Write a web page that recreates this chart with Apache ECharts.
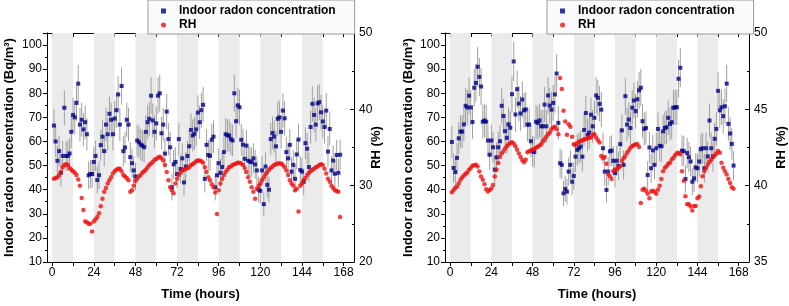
<!DOCTYPE html>
<html>
<head>
<meta charset="utf-8">
<script src="https://cdn.jsdelivr.net/npm/echarts@6/dist/echarts.min.js"></script>
<style>
  html, body { margin: 0; padding: 0; background: #fff; }
  #chart { width: 789px; height: 306px; }
</style>
</head>
<body>
<div id="chart"></div>
<script>
// hourly readings, hour 1 .. n
var radonA = [66.6, 60, 52, 56, 47, 54, 74, 54, 54, 55, 64, 71, 70, 76, 84, 67, 69, 65, 68, 63,
  46, 46.5, 46.5, 51.5, 54, 44, 46, 58.5, 62, 56, 67, 63, 71.5, 69, 63, 69.5, 73, 79.5, 67, 83,
  56, 57.5, 69, 67, 53.5, 51, 48, 45.5, 60.4, 59.7, 58.7, 58.3, 57.6, 64, 68, 69.4, 79, 68.7, 64, 67.5,
  79, 80, 63.4, 67, 55, 72.4, 61, 57.6, 41, 50.5, 51.5, 46.5, 61, 48.6, 53, 43, 49.6, 54, 58, 64.8,
  62.5, 63.2, 65, 72, 68, 73, 75.2, 44.5, 58.6, 54.4, 54, 60.7, 62, 41, 46, 51, 47, 49.4, 55.6, 63,
  62.5, 62.5, 61, 60.4, 80, 68.4, 75, 74.2, 60.7, 58.7, 52.8, 58.3, 52, 51.7, 51.4, 53, 50.5, 48, 40, 39.5,
  48, 34, 49.6, 42, 40, 61, 63.5, 62, 58, 69.4, 70, 64, 72.8, 69.6, 55.6, 53, 58.6, 47.5, 50.3, 44.5,
  54.6, 60.8, 48.2, 47.5, 43.3, 59.3, 57, 49.4, 66, 75.6, 71, 67, 75.8, 76.3, 72.1, 68.3, 66, 72.8, 55.8, 65.2,
  48, 52.1, 46.6, 54.4, 47, 54.5];
var rhA = [30.9, 31.0, 31.1, 31.4, 31.8, 32.4, 32.7, 32.8, 32.7, 32.3, 32.1, 31.9, 31.7, 31.4, 30.8, 30.0, 28.4, 26.8, 25.3, 25.2,
  25.0, 25.0, 24.0, 25.3, 25.6, 25.9, 26.4, 27.3, 28.3, 29.2, 29.7, 30.3, 30.7, 31.1, 31.6, 31.9, 32.1, 32.2, 32.2, 31.9,
  31.4, 31.2, 31.0, 30.7, 29.2, 29.4, 30.0, 30.6, 30.9, 31.2, 31.4, 31.7, 31.9, 32.1, 32.4, 32.7, 32.9, 33.1, 33.4, 33.5,
  33.7, 33.8, 33.6, 33.3, 32.7, 31.8, 30.7, 29.8, 29.4, 29.0, 30.3, 30.9, 31.4, 31.7, 32.0, 32.1, 32.2, 32.3, 32.4, 32.7,
  32.8, 33.0, 33.2, 33.3, 33.3, 33.2, 33.0, 32.4, 31.8, 31.1, 30.7, 30.2, 29.8, 29.1, 26.3, 29.4, 30.3, 30.9, 31.4, 31.8,
  32.1, 32.4, 32.5, 32.7, 32.8, 32.9, 33.0, 33.0, 32.9, 32.7, 32.3, 31.8, 31.1, 30.5, 29.8, 29.2, 28.3, 29.6, 30.0, 30.3,
  30.7, 31.1, 31.5, 31.8, 32.1, 32.3, 32.5, 32.7, 32.8, 32.9, 32.9, 32.9, 32.7, 32.4, 32.0, 31.4, 30.7, 30.3, 30.0, 29.4,
  29.6, 26.6, 30.0, 30.3, 30.7, 31.0, 31.4, 31.7, 31.9, 32.1, 32.2, 32.4, 32.5, 32.7, 32.8, 32.7, 32.2, 31.6, 30.9, 30.5,
  30.0, 29.7, 29.4, 29.3, 29.2, 25.9];

var radonB = [59.8, 49, 47.3, 53.2, 61.3, 64.1, 64.1, 67.1, 74.8, 74.1, 79, 74.1, 68.1, 82.3, 84.3, 91, 86.8, 82.8, 68.2, 68.7,
  68.2, 60.4, 54.5, 60.4, 57.6, 48.3, 53.4, 57.6, 60.1, 74.8, 70.6, 64.3, 61.5, 67.1, 65.7, 79.6, 93.2, 71.2, 81.7, 75.7,
  71.6, 77.4, 72.9, 73.3, 67, 67, 60.1, 55.9, 55.6, 68.2, 67.7, 68.7, 66.3, 66.3, 75.3, 66.3, 79.1, 74.9, 73.2, 76,
  79.5, 88.2, 67.7, 51, 50.3, 38.5, 40.3, 39.2, 47.5, 50.3, 43.3, 45.7, 53.7, 56.5, 57.2, 57.9, 53.7, 64.8, 71.8, 62.8,
  63.7, 71.1, 66.3, 69.8, 79.1, 78.1, 75.6, 73.2, 57.2, 47.5, 39.9, 47.5, 55.9, 56.2, 52, 46.9, 52, 49.9, 58.9, 64.6,
  50.3, 78.8, 67, 69.1, 65.6, 74, 77, 72.6, 77.5, 81.2, 82.3, 68.4, 65.2, 65.6, 46.1, 57.5, 48.9, 56.3, 50.3, 57.2,
  65.2, 58.2, 58, 64.2, 65.6, 65.9, 69.8, 67.3, 68, 74, 74.2, 74.2, 86, 90.6, 56.2, 56, 44.4, 55.2, 53.5, 51.7,
  43.3, 44.7, 49.2, 48.9, 51.7, 56.8, 57.2, 48.9, 57.2, 53.8, 68.7, 57.2, 53.8, 61.1, 65.2, 81, 72.9, 74.2, 70.5, 74.6,
  84, 67.3, 63.3, 59, 50];
var rhB = [39.57, 39.72, 39.84, 39.95, 40.16, 40.38, 40.54, 40.67, 40.78, 40.87, 41.04, 41.15, 41.31, 41.33, 41.37, 41.26, 40.93, 40.6, 40.38, 40.1,
  39.77, 39.62, 39.72, 39.81, 40.05, 40.6, 41.04, 41.48, 41.88, 42.1, 42.25, 42.43, 42.58, 42.69, 42.8, 42.85, 42.76, 42.58, 42.36, 42.1,
  41.88, 41.66, 41.53, 41.7, 42.19, 42.25, 42.3, 42.35, 42.4, 42.48, 42.55, 42.63, 42.71, 42.89, 43.04, 43.2, 43.37, 43.48, 43.7, 43.81,
  43.86, 43.7, 43.37, 47.05, 46.34, 44.91, 44.21, 43.33, 44.03, 43.86, 43.2, 42.71, 42.65, 42.78, 42.87, 42.93, 42.98, 43.04, 43.04, 43.11,
  43.15, 43.15, 43.33, 43.37, 43.15, 42.98, 42.82, 41.94, 41.79, 41.87, 41.43, 40.73, 40.62, 40.44, 40.95, 41.06, 41.06, 41.17, 41.28, 41.61,
  41.79, 41.94, 42.16, 42.31, 42.49, 42.6, 42.65, 42.71, 42.71, 42.54, 38.86, 39.74, 39.8, 39.67, 39.47, 39.18, 39.62, 39.67, 39.6, 39.47,
  39.74, 40.0, 40.44, 40.95, 41.17, 41.28, 41.43, 41.5, 41.72, 41.83, 42.0, 42.12, 42.16, 42.05, 40.95, 40.33, 39.3, 38.78, 38.78, 38.63,
  38.37, 38.67, 38.67, 39.18, 39.29, 39.96, 40.62, 40.95, 41.17, 41.39, 41.56, 41.72, 41.87, 41.98, 42.11, 42.27, 42.16, 41.5, 41.17, 40.95,
  40.73, 40.44, 40.18, 39.9, 39.8];

var nightBands = [[0, 12], [24, 36], [48, 60], [72, 84], [96, 108], [120, 132], [144, 156]];
var timeLabels = [0, 24, 48, 72, 96, 120, 144, 168];
var timeTicks = [0, 12, 24, 36, 48, 60, 72, 84, 96, 108, 120, 132, 144, 156, 168];
var radonLabels = [10, 20, 30, 40, 50, 60, 70, 80, 90, 100];

var font = 'Liberation Sans, Arial, sans-serif';
var radonName = 'Indoor radon concentration';

// counting uncertainty for the grey error bars
function errOf(v) { return 0.85 * Math.sqrt(v); }

function pts(arr) {
  return arr.map(function (v, i) { return [i + 1, v]; });
}
function errPts(arr) {
  return arr.map(function (v, i) { return [i + 1, v, errOf(v)]; });
}

function errorBar(params, api) {
  var x = api.value(0), y = api.value(1), e = api.value(2);
  var a = api.coord([x, y + e]);
  var b = api.coord([x, y - e]);
  return {
    type: 'line',
    shape: { x1: a[0], y1: a[1], x2: b[0], y2: b[1] },
    style: { stroke: '#a0a0a0', lineWidth: 1 }
  };
}

var myChart = echarts.init(document.getElementById('chart'));

function xBottom(g) {
  return {
    type: 'value', gridIndex: g, min: -3, max: 174, position: 'bottom',
    name: 'Time (hours)', nameLocation: 'middle', nameGap: 26,
    nameTextStyle: { fontFamily: font, fontWeight: 'bold', fontSize: 13, color: '#000' },
    axisLine: { onZero: false, lineStyle: { color: '#000', width: 1 } },
    axisTick: { customValues: timeTicks, length: 4, lineStyle: { color: '#000' } },
    axisLabel: { customValues: timeLabels, fontFamily: font, fontSize: 12, color: '#000', margin: 5 },
    splitLine: { show: false }
  };
}
function xTop(g) {
  return {
    type: 'value', gridIndex: g, min: -3, max: 174, position: 'top',
    axisLine: { onZero: false, lineStyle: { color: '#000', width: 1 } },
    axisTick: { customValues: timeTicks, inside: true, length: 4, lineStyle: { color: '#000' } },
    axisLabel: { show: false },
    splitLine: { show: false }
  };
}
function yRadon(g, gap) {
  return {
    type: 'value', gridIndex: g, min: 10, max: 105, interval: 10, position: 'left',
    name: radonName + ' (Bq/m³)', nameLocation: 'middle', nameGap: gap,
    nameTextStyle: { fontFamily: font, fontWeight: 'bold', fontSize: 13, color: '#000' },
    axisLine: { show: true, onZero: false, lineStyle: { color: '#000', width: 1 } },
    axisTick: { show: true, length: 4, lineStyle: { color: '#000' } },
    minorTick: { show: true, splitNumber: 2, length: 2, lineStyle: { color: '#000' } },
    axisLabel: { customValues: radonLabels, fontFamily: font, fontSize: 12, color: '#000', margin: 5 },
    splitLine: { show: false }
  };
}
function yRH(g, min, max, step, gap) {
  return {
    type: 'value', gridIndex: g, min: min, max: max, interval: step, position: 'right',
    name: 'RH (%)', nameLocation: 'middle', nameGap: gap, nameRotate: 90, nameMoveOverlap: false,
    nameTextStyle: { fontFamily: font, fontWeight: 'bold', fontSize: 13, color: '#000' },
    axisLine: { show: true, onZero: false, lineStyle: { color: '#000', width: 1 } },
    axisTick: { show: true, inside: true, length: 4, lineStyle: { color: '#000' } },
    minorTick: { show: true, splitNumber: 2, length: 2, lineStyle: { color: '#000' } },
    axisLabel: { fontFamily: font, fontSize: 12, color: '#000', margin: 5 },
    splitLine: { show: false }
  };
}

function legendAt(left) {
  return {
    orient: 'vertical', left: left, top: 0,
    data: [radonName, 'RH'],
    itemWidth: 5, itemHeight: 5, itemGap: 2,
    padding: [5, 19, 3, 13],
    backgroundColor: '#fafafa', borderColor: '#9a9a9a', borderWidth: 1,
    textStyle: { fontFamily: font, fontWeight: 'bold', fontSize: 12, color: '#000', padding: [0, 0, 0, 8] },
    selectedMode: false
  };
}

function panelSeries(g, radon, rh) {
  return [
    {
      name: 'bands', type: 'line', xAxisIndex: g * 2, yAxisIndex: g * 2, data: [], silent: true, z: 0,
      markArea: {
        silent: true,
        itemStyle: { color: '#ebebeb' },
        data: nightBands.map(function (b) { return [{ xAxis: b[0] }, { xAxis: b[1] }]; })
      }
    },
    {
      name: 'err', type: 'custom', xAxisIndex: g * 2, yAxisIndex: g * 2, z: 1, silent: true,
      renderItem: errorBar, encode: { x: 0, y: 1 }, data: errPts(radon)
    },
    {
      name: radonName, type: 'scatter', xAxisIndex: g * 2, yAxisIndex: g * 2, z: 3,
      symbol: 'rect', symbolSize: 4, itemStyle: { color: '#00008b' }, data: pts(radon)
    },
    {
      name: 'RH', type: 'scatter', xAxisIndex: g * 2, yAxisIndex: g * 2 + 1, z: 3,
      symbol: 'circle', symbolSize: 4.5, itemStyle: { color: '#ee1111' }, data: pts(rh)
    }
  ];
}

var option = {
  animation: false,
  backgroundColor: '#fff',
  legend: [legendAt(148), legendAt(547)],
  grid: [
    { left: 47, right: 435, top: 33, bottom: 43 },
    { left: 445, right: 40, top: 33, bottom: 44 }
  ],
  xAxis: [xBottom(0), xTop(0), xBottom(1), xTop(1)],
  yAxis: [yRadon(0, 31), yRH(0, 20, 50, 10, 16), yRadon(1, 30), yRH(1, 35, 50, 5, 26)],
  series: panelSeries(0, radonA, rhA).concat(panelSeries(1, radonB, rhB))
};

myChart.setOption(option);
</script>
</body>
</html>
